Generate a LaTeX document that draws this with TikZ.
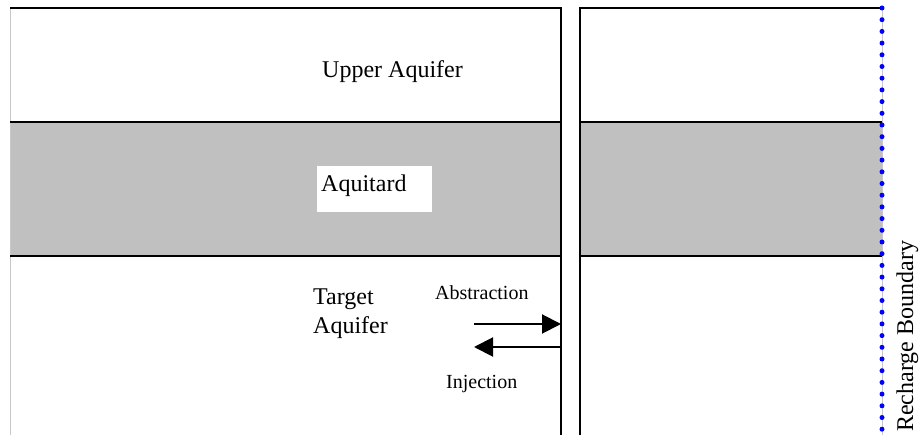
\documentclass[tikz,border=0pt]{standalone}
\usepackage{fontspec}
\setmainfont{Liberation Serif}
\usetikzlibrary{arrows.meta}
\definecolor{aqgray}{RGB}{192,192,192}
\definecolor{edgegray}{RGB}{200,200,200}
\tikzset{
  layerline/.style={line width=2pt, black},
  bigtext/.style={inner sep=0pt, font=\fontsize{24}{29}\selectfont},
  smalltext/.style={inner sep=0pt, font=\fontsize{20}{24}\selectfont},
  flowarrow/.style={line width=2pt, -{Triangle[length=19pt,width=19pt]}},
}
\begin{document}
\begin{tikzpicture}[x=1pt,y=-1pt]
\useasboundingbox (0,0) rectangle (919,435);
% grey aquitard bands
\fill[aqgray] (10,122) rectangle (561,256);
\fill[aqgray] (580,122) rectangle (882,256);
% faint left edge
\draw[edgegray, line width=1pt] (10,8) -- (10,435);
% faint line behind the dotted boundary
\draw[edgegray, line width=1pt] (882,8) -- (882,435);
% horizontal layer lines, left panel
\draw[layerline] (10,8) -- (561,8);
\draw[layerline] (10,122) -- (561,122);
\draw[layerline] (10,256) -- (561,256);
% horizontal layer lines, right panel
\draw[layerline] (580,8) -- (882,8);
\draw[layerline] (580,122) -- (882,122);
\draw[layerline] (580,256) -- (882,256);
% well walls
\draw[layerline] (561,7) -- (561,435);
\draw[layerline] (580,7) -- (580,435);
% recharge boundary (blue dots)
\coordinate (rbtop) at (882,8);
\coordinate (rbbot) at (882,435);
\draw[blue, line width=5pt, line cap=round, dash pattern=on 0pt off 11.7pt] (rbtop) -- (rbbot);
% texts
\node[bigtext, anchor=base west] (upper) at (322,78) {Upper Aquifer};
\node[fill=white, minimum width=115pt, minimum height=46pt, inner sep=0pt] (aqbox) at (374.5,189) {};
\node[bigtext, anchor=base west] (aquitard) at (321,192) {Aquitard};
\node[bigtext, anchor=base west] (target) at (313,305) {Target};
\node[bigtext, anchor=base west] (targetaq) at (313,334) {Aquifer};
\node[smalltext, anchor=base west] (abs) at (435,300) {Abstraction};
\node[smalltext, anchor=base west] (inj) at (446,389) {Injection};
\node[bigtext, anchor=base west, rotate=90] (recharge) at (913,432) {Recharge Boundary};
% arrows
\coordinate (absstart) at (474,324);
\coordinate (absend) at (561,324);
\coordinate (injstart) at (561,347);
\coordinate (injend) at (474,347);
\draw[flowarrow] (absstart) -- (absend);
\draw[flowarrow] (injstart) -- (injend);
\end{tikzpicture}
\end{document}
